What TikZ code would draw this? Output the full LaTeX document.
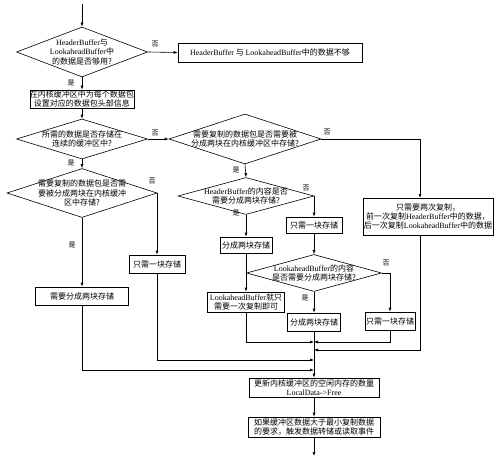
\documentclass[tikz,border=0pt]{standalone}
\usepackage{fontspec}
\setmainfont{Liberation Serif}
\newfontfamily\cjk{Noto Sans CJK SC}
\newcommand{\latn}[1]{{\rmfamily #1}}
\usetikzlibrary{shapes.geometric,arrows.meta}
\begin{document}
\begin{tikzpicture}[x=1pt,y=-1pt,
  every node/.style={font=\cjk\fontsize{8}{9.2}\selectfont, inner sep=0pt},
  box/.style={draw, line width=0.6pt, align=center},
  dia/.style={draw, diamond, line width=0.6pt},
  txt/.style={align=center},
  lbl/.style={font=\cjk\fontsize{7}{8}\selectfont},
  ar/.style={-{Latex[length=4pt,width=3pt]}, line width=0.6pt}]
\useasboundingbox (0,0) rectangle (501,460);
% decisions
\node[dia, minimum width=131pt, minimum height=50pt] (d1) at (82,52) {};
\node[txt] (d1t) at (d1) {\latn{HeaderBuffer}与\\\latn{LookaheadBuffer}中\\的数据是否够用?};
\node[dia, minimum width=131pt, minimum height=40pt] (d3) at (82,139) {};
\node[txt] (d3t) at (d3) {所需的数据是否存储在\\连续的缓冲区中?};
\node[dia, minimum width=152pt, minimum height=50pt] (d4) at (245,139) {};
\node[txt] (d4t) at (d4) {需要复制的数据包是否需要被\\分成两块在内核缓冲区中存储?};
\node[dia, minimum width=150pt, minimum height=49pt] (d5) at (82,193) {};
\node[txt] (d5t) at (d5) {需要复制的数据包是否需\\要被分成两块在内核缓冲\\区中存储?};
\node[dia, minimum width=136pt, minimum height=37pt] (d6) at (246,196) {};
\node[txt] (d6t) at (d6) {\latn{HeaderBuffer}的内容是否\\需要分成两块存储?};
\node[dia, minimum width=135pt, minimum height=37pt] (d7) at (314,273) {};
\node[txt] (d7t) at (d7) {\latn{LookaheadBuffer}的内容\\是否需要分成两块存储?};
% boxes
\node[box, minimum width=184pt, minimum height=19pt] (nb) at (270,52.5) {\latn{HeaderBuffer} 与 \latn{LookaheadBuffer}中的数据不够};
\node[box, minimum width=104pt, minimum height=18pt] (b2) at (82,99) {在内核缓冲区中为每个数据包\\设置对应的数据包头部信息};
\node[box, minimum width=93pt, minimum height=18pt] (b5) at (82,296) {需要分成两块存储};
\node[box, minimum width=56pt, minimum height=18pt] (b6) at (157,264) {只需一块存储};
\node[box, minimum width=130pt, minimum height=37pt] (b7) at (428,216.5) {只需要两次复制，\\前一次复制\latn{HeaderBuffer}中的数据，\\后一次复制\latn{LookaheadBuffer}中的数据};
\node[box, minimum width=52pt, minimum height=16pt] (b8) at (246,245) {分成两块存储};
\node[box, minimum width=56pt, minimum height=16pt] (b9) at (314,225) {只需一块存储};
\node[box, minimum width=77pt, minimum height=20pt] (b10) at (246,302) {\latn{LookaheadBuffer}就只\\需要一次复制即可};
\node[box, minimum width=53pt, minimum height=18pt] (b11) at (314,322) {分成两块存储};
\node[box, minimum width=50pt, minimum height=18pt] (b12) at (390,321) {只需一块存储};
\node[box, minimum width=130pt, minimum height=19pt] (b13) at (314,387.5) {更新内核缓冲区的空闲内存的数量\\\latn{LocalData->Free}};
\node[box, minimum width=132pt, minimum height=20pt] (b14) at (314,427) {如果缓冲区数据大于最小复制数据\\的要求，触发数据转储或读取事件};
% labels
\node[lbl] (l1n) at (155,44) {否};
\node[lbl] (l1y) at (71,83) {是};
\node[lbl] (l3n) at (155,133) {否};
\node[lbl] (l3y) at (71,163) {是};
\node[lbl] (l4n) at (327,132) {否};
\node[lbl] (l4y) at (236,170) {是};
\node[lbl] (l5n) at (152,181) {否};
\node[lbl] (l5y) at (72,245) {是};
\node[lbl] (l6n) at (306,188) {否};
\node[lbl] (l6y) at (236,213) {是};
\node[lbl] (l7n) at (386,263) {否};
\node[lbl] (l7y) at (305,298) {是};
% coordinates
\coordinate (start) at (82,4);
\coordinate (c7) at (420,198);
\coordinate (c7b) at (420,235);
\coordinate (m1) at (314,342);
\coordinate (m2) at (314,350);
\coordinate (m3) at (314,360);
\coordinate (m4) at (314,370);
\coordinate (fin) at (314,456);
% connectors
\draw[ar] (start) -- (d1.north);
\draw[ar] (d1.east) -- (nb.west);
\draw[ar] (d1.south) -- (b2.north);
\draw[ar] (b2.south) -- (d3.north);
\draw[ar] (d3.east) -- (d4.west);
\draw[ar] (d3.south) -- (d5.north);
\draw[ar] (d4.east) -| (c7);
\draw[ar] (d4.south) -- (d6.north);
\draw[ar] (d5.east) -| (b6.north);
\draw[ar] (d5.south) -- (b5.north);
\draw[ar] (d6.east) -| (b9.north);
\draw[ar] (d6.south) -- (b8.north);
\draw[ar] (b8.south) -- (b10.north);
\draw[ar] (b9.south) -- (d7.north);
\draw[ar] (d7.east) -| (b12.north);
\draw[ar] (d7.south) -- (b11.north);
\draw[ar] (b11.south) -- (b13.north);
\draw[ar] (b10.south) |- (m1);
\draw[ar] (b12.south) |- (m1);
\draw[ar] (c7b) |- (m2);
\draw[ar] (b6.south) |- (m3);
\draw[ar] (b5.south) |- (m4);
\draw[ar] (b13.south) -- (b14.north);
\draw[ar] (b14.south) -- (fin);
\end{tikzpicture}
\end{document}
